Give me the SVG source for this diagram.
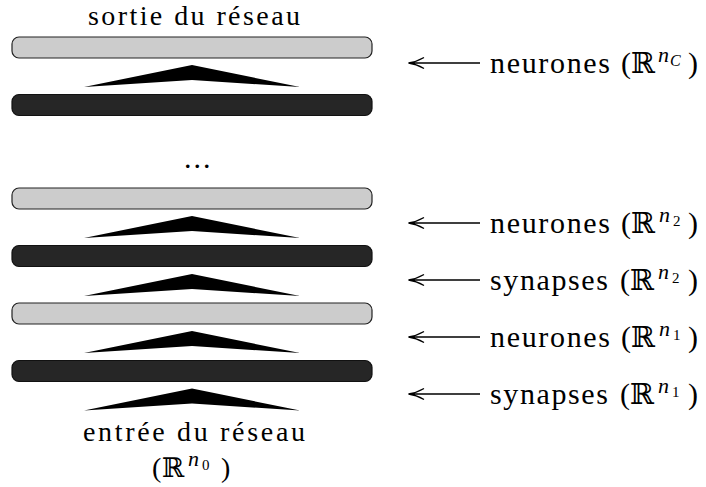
<svg xmlns="http://www.w3.org/2000/svg" width="706" height="487" viewBox="0 0 706 487">
<style>
text{font-family:"Liberation Serif","Times New Roman",serif;fill:#000}
.t{font-size:30px}
.ttl{font-size:28px}
.bb{font-family:"DejaVu Serif","DejaVu Sans",serif;font-size:29px}
.bb2{font-family:"DejaVu Serif","DejaVu Sans",serif;font-size:27px}
.sup{font-style:italic;font-size:22px}
.sub{font-size:15px}
.subi{font-style:italic;font-size:16px}
.light{fill:#cccccc;stroke:#222;stroke-width:1.2}
.dark{fill:#262626;stroke:#111;stroke-width:1.2}
.wedge{fill:#000}
.arr{fill:none;stroke:#000;stroke-width:1.4}
</style>
<defs>
<path id="wedge" d="M84,22 L192,0 L300,22 L192,15 Z"/>
<path id="larr" d="M480,0 H409 M424,-5.5 Q416,-1 408.5,0 Q416,1 424,5.5"/>
</defs>

<g id="title-out">
<text class="ttl" x="88" y="25" textLength="212" lengthAdjust="spacing">sortie du réseau</text>
</g>

<g id="layer-out-neurons"><rect class="light" x="12" y="37" width="360" height="21" rx="7"/></g>
<g id="layer-out-synapses"><rect class="dark" x="12" y="94.5" width="360" height="21" rx="7"/></g>
<g id="dots"><text class="t" x="184" y="168" letter-spacing="2">...</text></g>
<g id="layer-n2-neurons"><rect class="light" x="12" y="188" width="360" height="21" rx="7"/></g>
<g id="layer-n2-synapses"><rect class="dark" x="12" y="245.5" width="360" height="21" rx="7"/></g>
<g id="layer-n1-neurons"><rect class="light" x="12" y="303" width="360" height="21" rx="7"/></g>
<g id="layer-n1-synapses"><rect class="dark" x="12" y="360.5" width="360" height="21" rx="7"/></g>

<g id="title-in">
<text class="ttl" x="83" y="441" textLength="222" lengthAdjust="spacing">entrée du réseau</text>
<text class="ttl" x="152" y="477">(</text>
<text class="bb2" x="162" y="477">ℝ</text>
<text class="sup" x="188" y="466">n</text>
<text class="sub" x="202" y="470">0</text>
<text class="ttl" x="221" y="477">)</text>
</g>

<g id="connectors">
<use href="#wedge" class="wedge" transform="translate(0,65)"/>
<use href="#wedge" class="wedge" transform="translate(0,216)"/>
<use href="#wedge" class="wedge" transform="translate(0,274)"/>
<use href="#wedge" class="wedge" transform="translate(0,331)"/>
<use href="#wedge" class="wedge" transform="translate(0,388.5)"/>
<use href="#larr" class="arr" transform="translate(0,63)"/>
<use href="#larr" class="arr" transform="translate(0,223)"/>
<use href="#larr" class="arr" transform="translate(0,280)"/>
<use href="#larr" class="arr" transform="translate(0,337)"/>
<use href="#larr" class="arr" transform="translate(0,394)"/>
</g>

<g id="label-nC">
<text class="t" x="490" y="73" textLength="120" lengthAdjust="spacing">neurones</text>
<text class="t" x="621" y="73">(</text>
<text class="bb" x="631" y="73">ℝ</text>
<text class="sup" x="658" y="62">n</text>
<text class="subi" x="670" y="66">C</text>
<text class="t" x="688" y="73">)</text>
</g>
<g id="label-n2-neurons">
<text class="t" x="490" y="233" textLength="120" lengthAdjust="spacing">neurones</text>
<text class="t" x="621" y="233">(</text>
<text class="bb" x="631" y="233">ℝ</text>
<text class="sup" x="659" y="222">n</text>
<text class="sub" x="673" y="226">2</text>
<text class="t" x="688" y="233">)</text>
</g>
<g id="label-n2-synapses">
<text class="t" x="490" y="290" textLength="118" lengthAdjust="spacing">synapses</text>
<text class="t" x="620" y="290">(</text>
<text class="bb" x="630" y="290">ℝ</text>
<text class="sup" x="658" y="279">n</text>
<text class="sub" x="672" y="283">2</text>
<text class="t" x="688" y="290">)</text>
</g>
<g id="label-n1-neurons">
<text class="t" x="490" y="347" textLength="120" lengthAdjust="spacing">neurones</text>
<text class="t" x="621" y="347">(</text>
<text class="bb" x="631" y="347">ℝ</text>
<text class="sup" x="659" y="336">n</text>
<text class="sub" x="673" y="340">1</text>
<text class="t" x="688" y="347">)</text>
</g>
<g id="label-n1-synapses">
<text class="t" x="490" y="404" textLength="118" lengthAdjust="spacing">synapses</text>
<text class="t" x="620" y="404">(</text>
<text class="bb" x="630" y="404">ℝ</text>
<text class="sup" x="658" y="393">n</text>
<text class="sub" x="672" y="397">1</text>
<text class="t" x="688" y="404">)</text>
</g>
</svg>
